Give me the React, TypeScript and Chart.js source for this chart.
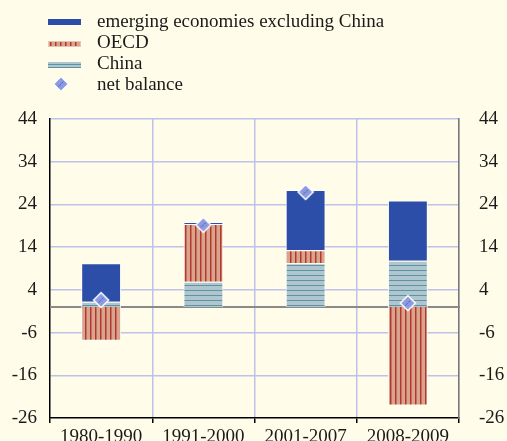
import React, { useEffect, useRef } from 'react';
import { Chart, registerables } from 'chart.js';

Chart.register(...registerables);

const categories = ['1980-1990', '1991-2000', '2001-2007', '2008-2009'];
const china = [1.2, 5.9, 10.2, 10.8];
const oecd = [-7.9, 13.5, 3.1, -23.1];
const emerging = [9.0, 0.5, 14.1, 14.1];
const netBalance = [1.6, 19.2, 26.9, 0.9];
const yTicks = [-26, -16, -6, 4, 14, 24, 34, 44];
const legendLabels = ['emerging economies excluding China', 'OECD', 'China', 'net balance'];

const FONT = '"Liberation Serif", "Times New Roman", serif';
const FS = 19;
const BG = '#FFFDE9';
const BLUE = '#2D4EA8';
const GRID = '#BEC2EA';
const TEXT = '#1a1a1a';

function makeOecdPattern(ctx: CanvasRenderingContext2D) {
  const c = document.createElement('canvas');
  c.width = 5; c.height = 4;
  const g = c.getContext('2d')!;
  g.fillStyle = '#D9A48E';
  g.fillRect(0, 0, 5, 4);
  g.fillStyle = '#B5382C';
  g.fillRect(0, 0, 1, 4);
  g.fillStyle = '#C8705F';
  g.fillRect(1, 0, 1, 4);
  return ctx.createPattern(c, 'repeat')!;
}

function makeChinaPattern(ctx: CanvasRenderingContext2D) {
  const c = document.createElement('canvas');
  c.width = 4; c.height = 5;
  const g = c.getContext('2d')!;
  g.fillStyle = '#B0C6CE';
  g.fillRect(0, 0, 4, 5);
  g.fillStyle = '#5E93A4';
  g.fillRect(0, 0, 4, 1);
  return ctx.createPattern(c, 'repeat')!;
}

function makeDiamond() {
  const c = document.createElement('canvas');
  c.width = 18; c.height = 18;
  const g = c.getContext('2d')!;
  const m = 9;
  const r = 7.5;
  g.beginPath();
  g.moveTo(m, m - r);
  g.lineTo(m + r, m);
  g.lineTo(m, m + r);
  g.lineTo(m - r, m);
  g.closePath();
  g.fillStyle = '#8C9AE0';
  g.fill();
  g.strokeStyle = '#ffffff';
  g.lineWidth = 1.5;
  g.stroke();
  g.strokeStyle = '#3F4FAE';
  g.lineWidth = 1;
  g.setLineDash([1.5, 1]);
  g.beginPath();
  g.moveTo(m - 2.5, m + 2.5);
  g.lineTo(m + 2.5, m - 2.5);
  g.stroke();
  return c;
}

export default function App() {
  const ref = useRef<HTMLCanvasElement>(null);

  useEffect(() => {
    const canvas = ref.current!;
    const ctx = canvas.getContext('2d')!;
    const oecdPat = makeOecdPattern(ctx);
    const chinaPat = makeChinaPattern(ctx);
    const diamond = makeDiamond();

    const bgPlugin = {
      id: 'bg',
      beforeDraw(chart: any) {
        const c = chart.ctx;
        c.save();
        c.fillStyle = BG;
        c.fillRect(0, 0, chart.width, chart.height);
        c.restore();
      },
    };

    const zeroPlugin = {
      id: 'zero',
      beforeDatasetsDraw(chart: any) {
        const c = chart.ctx;
        const y = chart.scales.y.getPixelForValue(0);
        const a = chart.chartArea;
        c.save();
        c.strokeStyle = '#8a8a8a';
        c.lineWidth = 2;
        c.beginPath();
        c.moveTo(a.left, y);
        c.lineTo(a.right + 1, y);
        c.stroke();
        c.restore();
      },
    };

    const legendPlugin = {
      id: 'customLegend',
      afterDraw(chart: any) {
        const c = chart.ctx;
        c.save();
        const sx = 48, sw = 33;
        c.fillStyle = BLUE;
        c.fillRect(sx, 19, sw, 6);
        c.fillStyle = oecdPat;
        c.fillRect(sx, 41, sw, 6);
        c.strokeStyle = '#E8C4B6';
        c.lineWidth = 1;
        c.strokeRect(sx + 0.5, 41.5, sw - 1, 5);
        c.fillStyle = '#B0C6CE';
        c.fillRect(sx, 62, sw, 6);
        c.fillStyle = '#5E93A4';
        c.fillRect(sx, 64, sw, 1);
        c.fillRect(sx, 67, sw, 1);
        c.drawImage(diamond, 61 - 9, 84 - 9);
        c.fillStyle = TEXT;
        c.font = `${FS}px ${FONT}`;
        c.textBaseline = 'alphabetic';
        c.textAlign = 'left';
        const ys = [27, 48, 69, 90];
        legendLabels.forEach((t, i) => c.fillText(t, 97, ys[i]));
        c.restore();
      },
    };

    const setTicks = (s: any) => {
      s.ticks = yTicks.map((v) => ({ value: v }));
    };

    const chart = new Chart(canvas, {
      type: 'bar',
      data: {
        labels: categories,
        datasets: [
          {
            type: 'bar',
            label: 'China',
            data: china,
            backgroundColor: chinaPat as any,
            borderColor: 'rgba(255,255,255,0.9)',
            borderWidth: 1,
            barPercentage: 0.39,
            categoryPercentage: 1,
            order: 1,
          },
          {
            type: 'bar',
            label: 'OECD',
            data: oecd,
            backgroundColor: oecdPat as any,
            borderColor: 'rgba(255,255,255,0.9)',
            borderWidth: 1,
            barPercentage: 0.39,
            categoryPercentage: 1,
            order: 1,
          },
          {
            type: 'bar',
            label: 'emerging economies excluding China',
            data: emerging,
            backgroundColor: BLUE,
            borderColor: 'rgba(255,255,255,0.9)',
            borderWidth: 1,
            barPercentage: 0.39,
            categoryPercentage: 1,
            order: 1,
          },
          {
            type: 'line',
            label: 'net balance',
            data: netBalance,
            showLine: false,
            pointStyle: diamond as any,
            pointRadius: 8,
            stack: 'net',
            order: 0,
          } as any,
        ],
      },
      options: {
        responsive: false,
        animation: false,
        devicePixelRatio: 1,
        layout: { padding: { top: 119, left: 0, right: 0, bottom: 0 } },
        plugins: { legend: { display: false }, tooltip: { enabled: false } },
        scales: {
          x: {
            stacked: true,
            offset: true,
            grid: {
              offset: true,
              color: (c: any) => (c.index === 0 || c.index === 4 ? 'rgba(0,0,0,0)' : GRID),
              lineWidth: 1.5,
              tickColor: '#000',
              tickLength: 5,
              drawTicks: true,
            },
            border: { color: '#000', width: 1.5 },
            ticks: {
              font: { family: FONT, size: FS },
              color: TEXT,
              padding: 3,
              maxRotation: 0,
              autoSkip: false,
            },
            afterFit: (s: any) => {
              s.height = 23;
              s.paddingLeft = 0;
              s.paddingRight = 0;
            },
          },
          y: {
            stacked: true,
            position: 'left',
            min: -26,
            max: 44,
            afterBuildTicks: setTicks,
            grid: {
              color: (c: any) => (c.tick && c.tick.value === -26 ? 'rgba(0,0,0,0)' : GRID),
              lineWidth: 1.5,
              drawTicks: false,
            },
            border: { color: '#000', width: 1.5 },
            ticks: { font: { family: FONT, size: FS }, color: TEXT, padding: 13 },
            afterFit: (s: any) => {
              s.width = 50;
              s.paddingTop = 0;
              s.paddingBottom = 0;
            },
          },
          y2: {
            position: 'right',
            min: -26,
            max: 44,
            afterBuildTicks: setTicks,
            grid: { display: false, drawTicks: false },
            border: { color: '#777', width: 1.5 },
            ticks: { font: { family: FONT, size: FS }, color: TEXT, padding: 20 },
            afterFit: (s: any) => {
              s.width = 48;
              s.paddingTop = 0;
              s.paddingBottom = 0;
            },
          },
        },
      } as any,
      plugins: [bgPlugin, zeroPlugin, legendPlugin],
    });

    return () => chart.destroy();
  }, []);

  return (
    <div style={{ position: 'absolute', left: 0, top: 0, width: 507, height: 441, background: BG }}>
      <canvas ref={ref} width={507} height={441} style={{ display: 'block' }} />
    </div>
  );
}
